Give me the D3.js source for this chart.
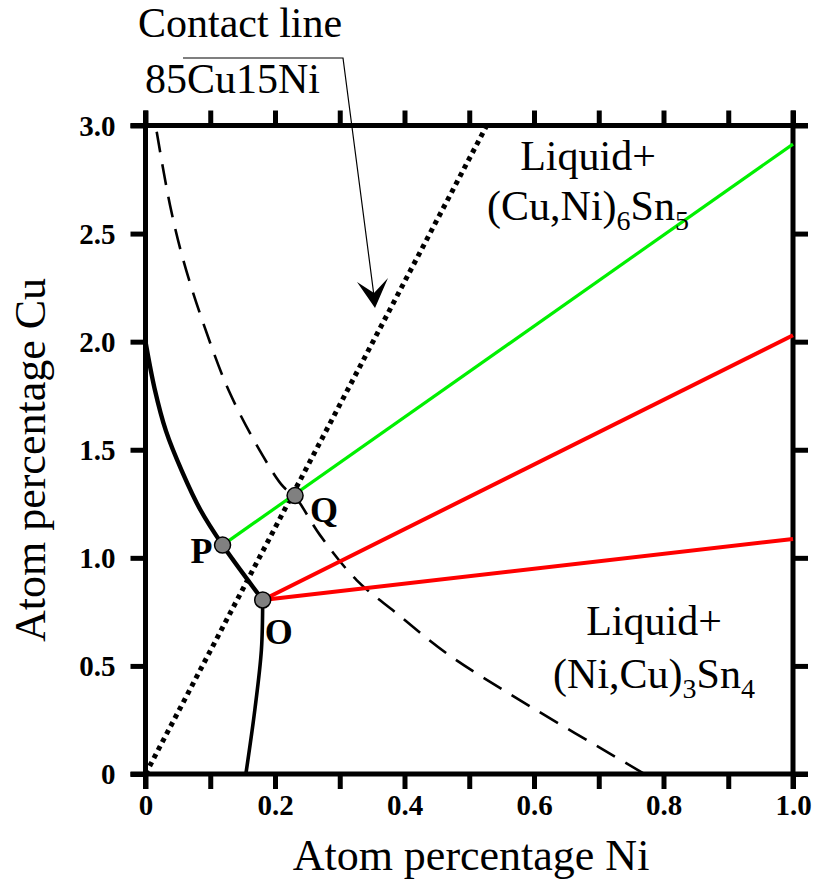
<!DOCTYPE html>
<html>
<head>
<meta charset="utf-8">
<script src="https://cdn.jsdelivr.net/npm/d3@7/dist/d3.min.js"></script>
<style>
  html, body { margin: 0; padding: 0; background: #fff; }
  svg { display: block; }
  text { font-family: "Liberation Serif", "Times New Roman", serif; }
</style>
</head>
<body>
<svg id="chart" width="821" height="886"></svg>
<script>
// ---------- data ----------
const xTickValues = [0, 0.1, 0.2, 0.3, 0.4, 0.5, 0.6, 0.7, 0.8, 0.9, 1.0];
const xTickLabels = ["0", "", "0.2", "", "0.4", "", "0.6", "", "0.8", "", "1.0"];
const yTickValues = [0, 0.5, 1.0, 1.5, 2.0, 2.5, 3.0];
const yTickLabels = ["0", "0.5", "1.0", "1.5", "2.0", "2.5", "3.0"];

// liquidus boundary (solid), upper branch from Cu axis to O
const boundaryUpperNi = [0, 0.0139, 0.0317, 0.0564, 0.0849, 0.119, 0.181];
const boundaryUpperCu = [2.0, 1.785, 1.586, 1.40, 1.221, 1.059, 0.805];
// lower branch from O to Ni axis
const boundaryLowerNi = [0.181, 0.179, 0.169, 0.155];
const boundaryLowerCu = [0.805, 0.574, 0.30, 0];

// dashed curve
const dashedNi = [0.0173, 0.0378, 0.0584, 0.0893, 0.1305, 0.182, 0.2128, 0.231, 0.2695, 0.326, 0.388, 0.465, 0.578, 0.771];
const dashedCu = [2.971, 2.632, 2.377, 2.085, 1.761, 1.468, 1.329, 1.283, 1.105, 0.897, 0.743, 0.558, 0.342, 0];

// contact line 85Cu15Ni (dotted)
const contactNi = [0, 0.527];
const contactCu = [0, 3.0];

// tie lines
const greenNi = [0.119, 1.0];
const greenCu = [1.059, 2.914];
const red1Ni = [0.181, 1.0];
const red1Cu = [0.805, 2.03];
const red2Ni = [0.181, 1.0];
const red2Cu = [0.805, 1.087];

// marked points
const pointNames = ["P", "Q", "O"];
const pointNi = [0.119, 0.231, 0.181];
const pointCu = [1.059, 1.288, 0.805];

// ---------- layout ----------
const svg = d3.select("#chart");
const x = d3.scaleLinear().domain([0, 1]).range([145.5, 793]);
const y = d3.scaleLinear().domain([0, 3]).range([774, 125.5]);
const tickLen = 15;
const axisW = 5;

const zip = (a, b) => a.map((v, i) => [v, b[i]]);
const line = d3.line().x(d => x(d[0])).y(d => y(d[1]));
const smooth = d3.line().x(d => x(d[0])).y(d => y(d[1])).curve(d3.curveCatmullRom.alpha(0.5));

// axes
const bottomAxis = d3.axisBottom(x).tickValues(xTickValues).tickSize(tickLen).tickSizeOuter(0)
  .tickFormat((d, i) => xTickLabels[i]);
const topAxis = d3.axisTop(x).tickValues(xTickValues).tickSize(tickLen).tickSizeOuter(0).tickFormat("");
const leftAxis = d3.axisLeft(y).tickValues(yTickValues).tickSize(tickLen).tickSizeOuter(0)
  .tickFormat((d, i) => yTickLabels[i]);
const rightAxis = d3.axisRight(y).tickValues(yTickValues).tickSize(tickLen).tickSizeOuter(0).tickFormat("");

function styleAxis(g) {
  g.select(".domain").remove();
  g.selectAll(".tick line").attr("stroke", "#000").attr("stroke-width", axisW);
  g.selectAll(".tick text").attr("fill", "#000")
    .style("font-family", "'Liberation Serif', serif").style("font-weight", "bold").style("font-size", "29px");
}
const gB = svg.append("g").attr("transform", `translate(0,${y(0)})`).call(bottomAxis).call(styleAxis);
gB.selectAll(".tick text").attr("dy", null).attr("y", 41);
const gT = svg.append("g").attr("transform", `translate(0,${y(3)})`).call(topAxis).call(styleAxis);
const gL = svg.append("g").attr("transform", `translate(${x(0)},0)`).call(leftAxis).call(styleAxis);
gL.selectAll(".tick text").attr("x", -30).attr("dy", "0.34em");
const gR = svg.append("g").attr("transform", `translate(${x(1)},0)`).call(rightAxis).call(styleAxis);

// frame lines extended by tick length
const frame = svg.append("g").attr("stroke", "#000").attr("stroke-width", axisW).attr("stroke-linecap", "butt");
frame.append("line").attr("x1", x(0) - tickLen).attr("x2", x(1) + tickLen).attr("y1", y(0)).attr("y2", y(0));
frame.append("line").attr("x1", x(0) - tickLen).attr("x2", x(1) + tickLen).attr("y1", y(3)).attr("y2", y(3));
frame.append("line").attr("x1", x(0)).attr("x2", x(0)).attr("y1", y(0) + tickLen).attr("y2", y(3) - tickLen);
frame.append("line").attr("x1", x(1)).attr("x2", x(1)).attr("y1", y(0) + tickLen).attr("y2", y(3) - tickLen);

// axis titles
svg.append("text").attr("x", 471).attr("y", 870).attr("text-anchor", "middle")
  .style("font-size", "44px").text("Atom percentage Ni");
svg.append("text").attr("transform", `translate(45,460) rotate(-90)`).attr("text-anchor", "middle")
  .style("font-size", "44px").text("Atom percentage Cu");

// curves
const plot = svg.append("g").attr("fill", "none");
plot.append("path").attr("d", smooth(zip(dashedNi, dashedCu)))
  .attr("stroke", "#000").attr("stroke-width", 2.6).attr("stroke-dasharray", "21,12");
plot.append("path").attr("d", line(zip(contactNi, contactCu)))
  .attr("stroke", "#000").attr("stroke-width", 5).attr("stroke-dasharray", "4.5,4.5");
plot.append("path").attr("d", smooth(zip(boundaryUpperNi, boundaryUpperCu)))
  .attr("stroke", "#000").attr("stroke-width", 4.4).attr("stroke-linejoin", "round");
plot.append("path").attr("d", smooth(zip(boundaryLowerNi, boundaryLowerCu)))
  .attr("stroke", "#000").attr("stroke-width", 3.6);
plot.append("path").attr("d", line(zip(greenNi, greenCu)))
  .attr("stroke", "#00f000").attr("stroke-width", 3.2);
plot.append("path").attr("d", line(zip(red1Ni, red1Cu)))
  .attr("stroke", "#ff0000").attr("stroke-width", 4);
plot.append("path").attr("d", line(zip(red2Ni, red2Cu)))
  .attr("stroke", "#ff0000").attr("stroke-width", 4);

// points
const pts = zip(pointNi, pointCu);
svg.append("g").selectAll("circle").data(pts).join("circle")
  .attr("cx", d => x(d[0])).attr("cy", d => y(d[1])).attr("r", 8)
  .attr("fill", "#808080").attr("stroke", "#000").attr("stroke-width", 1.5);

// point labels
const labelOffsets = { P: [-10, 18, "end"], Q: [15, 26, "start"], O: [2, 44, "start"] };
svg.append("g").selectAll("text").data(pointNames).join("text")
  .attr("x", (d, i) => x(pointNi[i]) + labelOffsets[d][0])
  .attr("y", (d, i) => y(pointCu[i]) + labelOffsets[d][1])
  .attr("text-anchor", d => labelOffsets[d][2])
  .style("font-weight", "bold").style("font-size", "36px").text(d => d);

// region labels
function phaseLabel(cx, y1, y2, parts) {
  svg.append("text").attr("x", cx).attr("y", y1).attr("text-anchor", "middle")
    .style("font-size", "42px").text("Liquid+");
  const t = svg.append("text").attr("x", cx).attr("y", y2).attr("text-anchor", "middle").style("font-size", "42px");
  parts.forEach(p => {
    const ts = t.append("tspan").text(p[0]);
    if (p[1]) ts.style("font-size", "28px").attr("dy", 10);
    else ts.attr("dy", p[2] ? -10 : 0);
  });
}
phaseLabel(588, 170, 220, [["(Cu,Ni)"], ["6", true], ["Sn", false, true], ["5", true]]);
phaseLabel(654, 635, 688, [["(Ni,Cu)"], ["3", true], ["Sn", false, true], ["4", true]]);

// contact line annotation
svg.append("text").attr("x", 138).attr("y", 37).style("font-size", "42px").text("Contact line");
svg.append("text").attr("x", 145).attr("y", 93).style("font-size", "42px").text("85Cu15Ni");
svg.append("path").attr("d", "M183,58 L343,58 L374,296").attr("fill", "none")
  .attr("stroke", "#000").attr("stroke-width", 1.2);
svg.append("path").attr("d", "M375,308 L357,282 L374,293 L388,278 Z").attr("fill", "#000");
</script>
</body>
</html>
